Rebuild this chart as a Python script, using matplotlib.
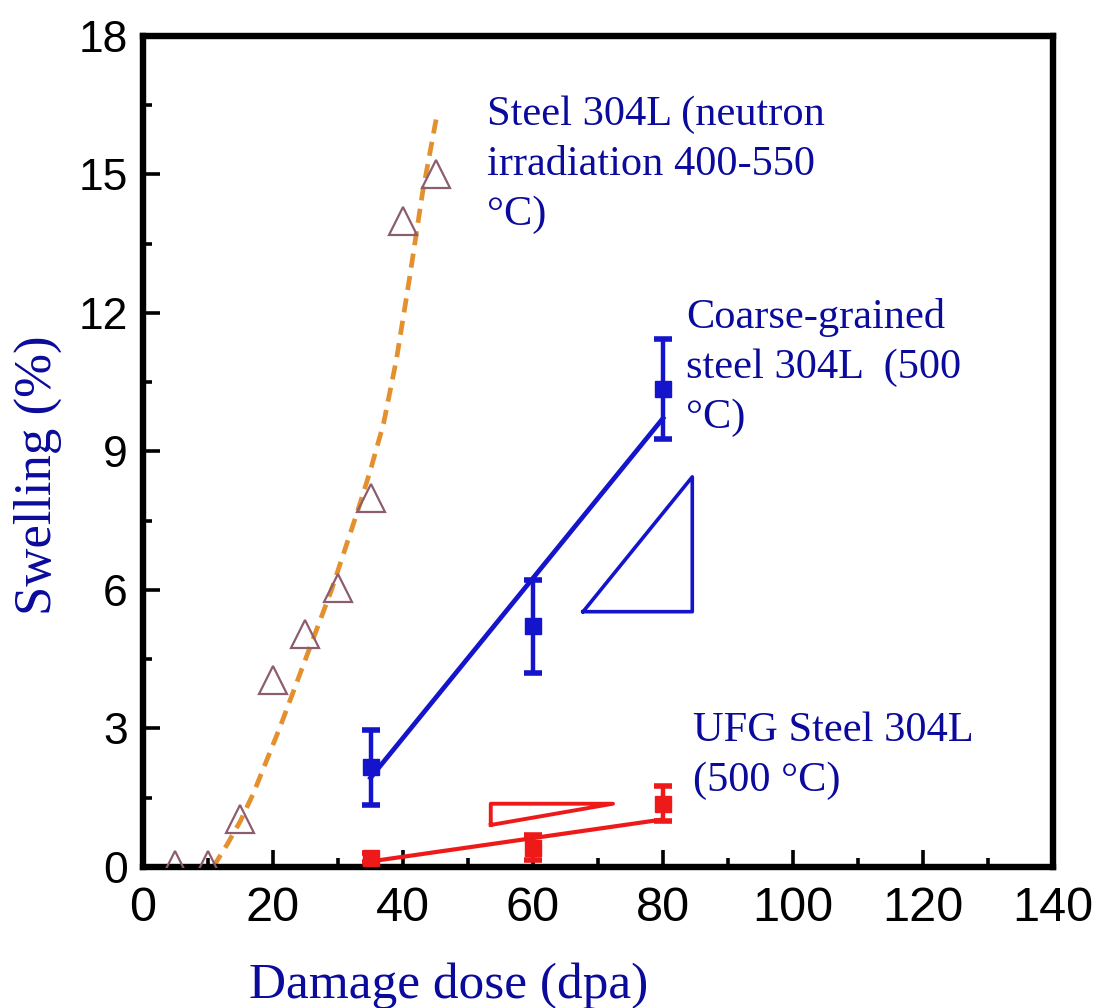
import matplotlib
matplotlib.use("Agg")
import matplotlib.pyplot as plt
from matplotlib.ticker import MultipleLocator

# Neutron-irradiated 304L (open triangles) and its trend curve
neutron_dose = [5, 10, 15, 20, 25, 30, 35, 40, 45]
neutron_swelling = [0.05, 0.05, 1.05, 4.05, 5.05, 6.05, 8.0, 14.0, 15.0]
neutron_trend_dose = [10.8, 13, 15, 17, 19, 21, 23, 25, 27, 29, 31, 33, 35, 37, 39, 41, 43, 45.1]
neutron_trend_swelling = [0.0, 0.5, 1.0, 1.6, 2.3, 3.0, 3.75, 4.5, 5.25, 6.0, 6.85,
                          7.7, 8.6, 9.6, 11.0, 12.75, 14.6, 16.2]

# Coarse-grained 304L, ion irradiation at 500 C
cg_dose = [35, 60, 80]
cg_swelling = [2.16, 5.21, 10.36]
cg_err = [0.81, 1.0, 1.08]
cg_fit_dose = [35, 80]
cg_fit_swelling = [1.93, 9.72]
cg_slope_x = [67.7, 84.5, 84.5, 67.7]
cg_slope_y = [5.53, 5.53, 8.45, 5.53]

# Ultrafine-grained 304L, ion irradiation at 500 C
ufg_dose = [35, 60, 80]
ufg_swelling = [0.2, 0.42, 1.37]
ufg_err = [0.1, 0.27, 0.38]
ufg_fit_dose = [35, 80]
ufg_fit_swelling = [0.12, 1.03]
ufg_slope_x = [53.5, 53.5, 72.3, 53.5]
ufg_slope_y = [0.91, 1.37, 1.37, 0.91]

x_ticks = [0, 20, 40, 60, 80, 100, 120, 140]
y_ticks = [0, 3, 6, 9, 12, 15, 18]

text_blue = "#0a0a9c"
line_blue = "#1414cc"
red = "#ee1a1a"
orange = "#e3902f"
tri_edge = "#8c5d6e"
serif = ["Liberation Serif", "DejaVu Serif"]
sans = ["Liberation Sans", "DejaVu Sans"]

fig = plt.figure(figsize=(10.99, 10.08), dpi=100)
ax = fig.add_axes([0.1301, 0.1399, 0.8281, 0.8244])

ax.plot(neutron_trend_dose, neutron_trend_swelling, color=orange, lw=3.4,
        dashes=(3.0, 1.8), zorder=2)
ax.plot(neutron_dose, neutron_swelling, linestyle="none", marker="^",
        markersize=20, markerfacecolor="none", markeredgecolor=tri_edge,
        markeredgewidth=1.6, zorder=3)

ax.plot(cg_fit_dose, cg_fit_swelling, color=line_blue, lw=3.4, zorder=3)
ax.errorbar(cg_dose, cg_swelling, yerr=cg_err, fmt="s", color=line_blue,
            markersize=11.5, elinewidth=3.2, capsize=6.5, capthick=4, zorder=4)
ax.plot(cg_slope_x, cg_slope_y, color=line_blue, lw=2.6, zorder=3)

ax.plot(ufg_fit_dose, ufg_fit_swelling, color=red, lw=3.0, zorder=3)
ax.errorbar(ufg_dose, ufg_swelling, yerr=ufg_err, fmt="s", color=red,
            markersize=11.5, elinewidth=3.2, capsize=6.5, capthick=4, zorder=4)
ax.plot(ufg_slope_x, ufg_slope_y, color=red, lw=2.8, zorder=3)

ax.set_xlim(0, 140)
ax.set_ylim(0, 18)
ax.set_xticks(x_ticks)
ax.set_yticks(y_ticks)
ax.xaxis.set_minor_locator(MultipleLocator(10))
ax.yaxis.set_minor_locator(MultipleLocator(1.5))
ax.tick_params(which="both", direction="in", top=False, right=False, width=2.6)
ax.tick_params(which="major", length=12)
ax.tick_params(which="minor", length=6.5)
ax.tick_params(axis="x", pad=14)
ax.tick_params(axis="y", pad=11)
for lab in ax.get_xticklabels():
    lab.set_fontfamily(sans)
    lab.set_fontsize(35)
for lab in ax.get_yticklabels():
    lab.set_fontfamily(sans)
    lab.set_fontsize(32)
for side in ax.spines.values():
    side.set_linewidth(4.6)

ax.text(52.9, 16.72, "Steel 304L (neutron\nirradiation 400-550\n°C)",
        family=serif, fontsize=30.5, color=text_blue, ha="left", va="top",
        linespacing=1.4)
ax.text(83.5, 12.33, "Coarse-grained\nsteel 304L  (500\n°C)",
        family=serif, fontsize=30.5, color=text_blue, ha="left", va="top",
        linespacing=1.4)
ax.text(84.6, 3.37, "UFG Steel 304L\n(500 °C)",
        family=serif, fontsize=30.5, color=text_blue, ha="left", va="top",
        linespacing=1.4)

fig.text(38 / 1099, 1 - 475 / 1008, "Swelling (%)", family=serif, fontsize=38,
         color=text_blue, rotation=90, ha="center", va="center")
fig.text(449 / 1099, 1 - 998 / 1008, "Damage dose (dpa)", family=serif,
         fontsize=37, color=text_blue, ha="center", va="baseline")

fig.savefig("out.png", dpi=100)
